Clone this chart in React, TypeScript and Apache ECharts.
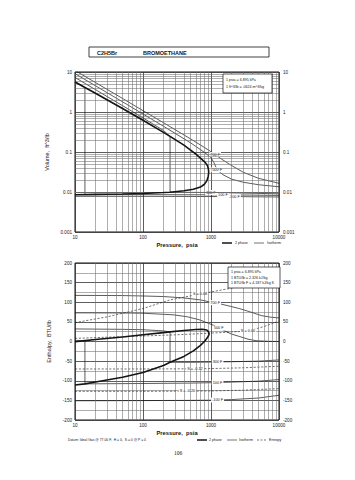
import React, { useEffect, useRef } from 'react';
import * as echarts from 'echarts';

const FONT = 'Liberation Sans, Arial, Helvetica, sans-serif';
const INK = '#151515';

// ---------- axis ticks ----------
const pressureMinor = [20, 30, 40, 50, 60, 70, 80, 90, 200, 300, 400, 500, 600, 700, 800, 900, 2000, 3000, 4000, 5000, 6000, 7000, 8000, 9000];
const volumeMinor = [0.002, 0.003, 0.004, 0.005, 0.006, 0.007, 0.008, 0.009, 0.02, 0.03, 0.04, 0.05, 0.06, 0.07, 0.08, 0.09, 0.2, 0.3, 0.4, 0.5, 0.6, 0.7, 0.8, 0.9, 2, 3, 4, 5, 6, 7, 8, 9];

// ---------- Volume chart [psia, ft^3/lb] ----------
const satLiquidVol = [[10, 0.0085], [20, 0.0087], [50, 0.0089], [100, 0.0092], [200, 0.0097], [250, 0.0099], [400, 0.0107], [550, 0.0117], [700, 0.0133], [800, 0.0156], [870, 0.0192], [910, 0.0245], [925, 0.031]];
const satVaporVol = [[925, 0.031], [915, 0.038], [885, 0.046], [820, 0.055], [700, 0.07], [600, 0.088], [500, 0.112], [400, 0.148], [250, 0.245], [200, 0.31], [100, 0.62], [50, 1.22], [20, 2.95], [14, 4.1], [10, 5.6]];
const isoVolM100 = [[10, 0.0078], [100, 0.0078], [1000, 0.0077], [2200, 0.0077], [4000, 0.0076], [10000, 0.0075]];
const isoVol100 = [[10, 5.75], [14, 4.1], [14, 0.0086], [100, 0.0086], [1000, 0.0085], [1500, 0.0085], [3000, 0.0084], [10000, 0.0082]];
const isoVol300 = [[10, 7.3], [20, 3.62], [50, 1.44], [100, 0.71], [200, 0.345], [250, 0.245], [250, 0.0099], [500, 0.0098], [1000, 0.0097], [3000, 0.0094], [10000, 0.009]];
const isoVol500 = [[10, 9.1], [20, 4.52], [50, 1.8], [100, 0.89], [200, 0.44], [500, 0.17], [800, 0.098], [1000, 0.072], [1100, 0.055], [1230, 0.036], [1500, 0.027], [2000, 0.021], [3000, 0.0175], [5000, 0.0152], [10000, 0.0135]];
const isoVol700 = [[10, 10.9], [20, 5.45], [50, 2.18], [100, 1.08], [200, 0.54], [500, 0.213], [800, 0.13], [1000, 0.102], [1150, 0.086], [1500, 0.063], [2000, 0.046], [3000, 0.031], [5000, 0.022], [10000, 0.0165]];

// ---------- Enthalpy chart [psia, BTU/lb] ----------
const satLiquidH = [[10, -111], [14, -108], [20, -103], [50, -91], [100, -79], [200, -61], [250, -53], [400, -38], [550, -24], [700, -10], [800, 0], [870, 8], [915, 14], [935, 18]];
const satVaporH = [[935, 18], [930, 22], [910, 26], [860, 29.5], [750, 31], [600, 30.5], [400, 28], [250, 24.5], [200, 22.5], [100, 17], [50, 11.5], [20, 5], [14, 2.3], [10, -0.5]];
const isoHM100 = [[10, -151], [100, -150.5], [500, -150], [1000, -149.5], [1250, -149], [2000, -148], [5000, -144], [10000, -137]];
const isoH100 = [[10, 2.9], [14, 2.3], [14, -108], [100, -107], [500, -106], [1000, -105], [1250, -104.5], [2000, -103.5], [5000, -101], [10000, -97]];
const isoH300 = [[10, 32], [50, 31], [100, 30], [200, 27], [250, 24.5], [250, -53], [500, -53], [1000, -52.5], [1250, -52], [2000, -51.5], [5000, -50], [10000, -47]];
const isoH500 = [[10, 73], [50, 72.8], [100, 72], [278, 68], [450, 63], [684, 55], [900, 47], [1100, 41], [1300, 34], [2000, 19], [2600, 13], [3500, 6], [4600, 2], [7000, 0.5], [10000, 0]];
const isoH700 = [[10, 117.5], [50, 117], [100, 116], [200, 114.5], [400, 111], [700, 106], [950, 101], [1150, 99], [1600, 93], [2600, 84], [4000, 74], [5500, 66], [7500, 62], [10000, 60]];
const entropy008 = [[10, 48], [30, 63], [100, 84], [250, 106], [690, 121], [2000, 136], [5000, 146], [10000, 153]];
const entropy000 = [[10, 8], [30, 11], [100, 14], [300, 17], [700, 20], [1500, 23], [3500, 27], [6000, 38], [10000, 52]];
const entropyM012 = [[10, -70], [100, -70], [580, -69.5], [1000, -69], [3000, -67], [10000, -63]];
const entropyM020 = [[10, -127], [100, -127], [450, -126.5], [1000, -126], [3000, -124], [10000, -120]];

function lineSeries(data: number[][], grid: number, width: number, labels: Record<number, string> = {}, dashed = false, z = 3) {
  return {
    type: 'line',
    xAxisIndex: grid,
    yAxisIndex: grid * 2,
    data: data.map((p, i) =>
      labels[i]
        ? {
            value: p,
            label: {
              show: true,
              position: 'inside',
              formatter: labels[i],
              fontSize: 3.8,
              fontFamily: FONT,
              color: INK,
              backgroundColor: '#ffffff',
              padding: [0.5, 1],
            },
          }
        : p
    ),
    symbol: 'circle',
    symbolSize: 0,
    showSymbol: true,
    silent: true,
    z,
    lineStyle: { color: INK, width, type: dashed ? [2.2, 1.6] : 'solid' },
    itemStyle: { color: INK },
  };
}

function minorGrid(grid: number, xs: number[], ys: number[]) {
  return {
    type: 'line',
    xAxisIndex: grid,
    yAxisIndex: grid * 2,
    data: [],
    silent: true,
    z: 1,
    markLine: {
      silent: true,
      symbol: ['none', 'none'],
      label: { show: false },
      lineStyle: { color: '#6a6a6a', width: 0.55, type: 'solid' },
      emphasis: { disabled: true },
      data: [...xs.map((v) => ({ xAxis: v })), ...ys.map((v) => ({ yAxis: v }))],
    },
  };
}

const tickLabel = { fontSize: 4.6, fontFamily: FONT, color: '#222' };
const logFmt = (v: number) => String(Number(v.toPrecision(3)));

export default function App() {
  const ref = useRef<HTMLDivElement>(null);
  useEffect(() => {
    if (!ref.current) return;
    const chart = echarts.init(ref.current, undefined, { renderer: 'svg' });
    const xAxisBase = (gridIndex: number, nameGap: number) => ({
      type: 'log',
      logBase: 10,
      min: 10,
      max: 10000,
      gridIndex,
      name: 'Pressure,  psia',
      nameLocation: 'middle',
      nameGap,
      nameTextStyle: { fontSize: 5.8, fontWeight: 'bold', fontFamily: FONT, color: INK },
      axisLine: { show: false },
      axisTick: { show: false },
      axisLabel: { ...tickLabel, margin: 3, formatter: (v: number) => String(Math.round(v)) },
      splitLine: { show: true, lineStyle: { color: '#333', width: 0.8 } },
    });
    const option = {
      animation: false,
      backgroundColor: '#ffffff',
      grid: [
        { left: 75, right: 76, top: 72, height: 160, show: true, borderColor: '#111', borderWidth: 1, backgroundColor: 'transparent' },
        { left: 75, right: 76, top: 263, height: 157, show: true, borderColor: '#111', borderWidth: 1, backgroundColor: 'transparent' },
      ],
      xAxis: [xAxisBase(0, 10), xAxisBase(1, 10)],
      yAxis: [
        {
          type: 'log', logBase: 10, min: 0.001, max: 10, gridIndex: 0, position: 'left',
          name: 'Volume,  ft^3/lb', nameLocation: 'middle', nameGap: 19,
          nameTextStyle: { fontSize: 5.5, fontFamily: FONT, color: INK },
          axisLine: { show: false }, axisTick: { show: false },
          axisLabel: { ...tickLabel, margin: 3, formatter: logFmt },
          splitLine: { show: true, lineStyle: { color: '#333', width: 0.8 } },
        },
        {
          type: 'log', logBase: 10, min: 0.001, max: 10, gridIndex: 0, position: 'right',
          axisLine: { show: false }, axisTick: { show: false },
          axisLabel: { ...tickLabel, margin: 4, formatter: logFmt },
          splitLine: { show: false },
        },
        {
          type: 'value', min: -200, max: 200, interval: 50, gridIndex: 1, position: 'left',
          name: 'Enthalpy,  BTU/lb', nameLocation: 'middle', nameGap: 19,
          nameTextStyle: { fontSize: 5.5, fontFamily: FONT, color: INK },
          axisLine: { show: false }, axisTick: { show: false },
          axisLabel: { ...tickLabel, margin: 3 },
          splitLine: { show: true, lineStyle: { color: '#333', width: 0.8 } },
          minorTick: { show: false, splitNumber: 2 },
          minorSplitLine: { show: true, lineStyle: { color: '#6a6a6a', width: 0.55 } },
        },
        {
          type: 'value', min: -200, max: 200, interval: 50, gridIndex: 1, position: 'right',
          axisLine: { show: false }, axisTick: { show: false },
          axisLabel: { ...tickLabel, margin: 4 },
          splitLine: { show: false },
        },
      ],
      series: [
        minorGrid(0, pressureMinor, volumeMinor),
        minorGrid(1, pressureMinor, []),
        lineSeries([...satLiquidVol, ...satVaporVol.slice(1)], 0, 1.6, {}, false, 5),
        lineSeries(isoVolM100, 0, 0.7, { 3: '-100 F' }),
        lineSeries(isoVol100, 0, 0.7, { 5: '100 F' }),
        lineSeries(isoVol300, 0, 0.7, { 8: '300 F' }),
        lineSeries(isoVol500, 0, 0.7, { 9: '500 F' }),
        lineSeries(isoVol700, 0, 0.7, { 8: '700 F' }),
        lineSeries([...satLiquidH, ...satVaporH.slice(1)], 1, 1.6, {}, false, 5),
        lineSeries(isoHM100, 1, 0.7, { 4: '-100 F' }),
        lineSeries(isoH100, 1, 0.7, { 6: '100 F' }),
        lineSeries(isoH300, 1, 0.7, { 8: '300 F' }),
        lineSeries(isoH500, 1, 0.7, { 8: '500 F' }),
        lineSeries(isoH700, 1, 0.7, { 7: '700 F' }),
        lineSeries(entropy008, 1, 0.6, { 4: 'S = 0.08' }, true),
        lineSeries(entropy000, 1, 0.6, { 6: 'S = 0.00' }, true),
        lineSeries(entropyM012, 1, 0.6, { 2: 'S = -0.12' }, true),
        lineSeries(entropyM020, 1, 0.6, { 2: 'S = -0.20' }, true),
      ],
      graphic: [
        { type: 'rect', shape: { x: 89, y: 47, width: 180, height: 10 }, style: { fill: 'none', stroke: '#111', lineWidth: 0.8 } },
        { type: 'text', x: 97, y: 52.5, style: { text: 'C2H5Br', fontSize: 5.5, fontWeight: 'bold', fontFamily: FONT, fill: INK, verticalAlign: 'middle' } },
        { type: 'text', x: 143, y: 52.5, style: { text: 'BROMOETHANE', fontSize: 5.5, fontWeight: 'bold', fontFamily: FONT, fill: INK, verticalAlign: 'middle' } },
        // top info box
        { type: 'rect', shape: { x: 223, y: 74, width: 49, height: 19 }, style: { fill: '#fff', stroke: '#111', lineWidth: 0.7 }, z: 10 },
        { type: 'text', x: 226, y: 80, z: 11, style: { text: '1 psia = 6.895 kPa', fontSize: 3.6, fontFamily: FONT, fill: INK, verticalAlign: 'middle' } },
        { type: 'text', x: 226, y: 86.5, z: 11, style: { text: '1 ft^3/lb = .0624 m^3/kg', fontSize: 3.6, fontFamily: FONT, fill: INK, verticalAlign: 'middle' } },
        // bottom info box
        { type: 'rect', shape: { x: 228, y: 267, width: 52, height: 21 }, style: { fill: '#fff', stroke: '#111', lineWidth: 0.7 }, z: 10 },
        { type: 'text', x: 231, y: 272, z: 11, style: { text: '1 psia = 6.895 kPa', fontSize: 3.6, fontFamily: FONT, fill: INK, verticalAlign: 'middle' } },
        { type: 'text', x: 231, y: 277.5, z: 11, style: { text: '1 BTU/lb = 2.326 kJ/kg', fontSize: 3.6, fontFamily: FONT, fill: INK, verticalAlign: 'middle' } },
        { type: 'text', x: 231, y: 283, z: 11, style: { text: '1 BTU/lb F = 4.187 kJ/kg K', fontSize: 3.6, fontFamily: FONT, fill: INK, verticalAlign: 'middle' } },
        // top legend
        { type: 'line', shape: { x1: 222, y1: 243, x2: 232, y2: 243 }, style: { stroke: INK, lineWidth: 1.5 } },
        { type: 'text', x: 235, y: 243, style: { text: '2 phase', fontSize: 3.6, fontFamily: FONT, fill: INK, verticalAlign: 'middle' } },
        { type: 'line', shape: { x1: 254, y1: 243, x2: 264, y2: 243 }, style: { stroke: INK, lineWidth: 0.6 } },
        { type: 'text', x: 267, y: 243, style: { text: 'Isotherm', fontSize: 3.6, fontFamily: FONT, fill: INK, verticalAlign: 'middle' } },
        // bottom legend
        { type: 'line', shape: { x1: 197, y1: 440, x2: 207, y2: 440 }, style: { stroke: INK, lineWidth: 1.5 } },
        { type: 'text', x: 209, y: 440, style: { text: '2 phase', fontSize: 3.6, fontFamily: FONT, fill: INK, verticalAlign: 'middle' } },
        { type: 'line', shape: { x1: 227, y1: 440, x2: 237, y2: 440 }, style: { stroke: INK, lineWidth: 0.6 } },
        { type: 'text', x: 239, y: 440, style: { text: 'Isotherm', fontSize: 3.6, fontFamily: FONT, fill: INK, verticalAlign: 'middle' } },
        { type: 'line', shape: { x1: 257, y1: 440, x2: 267, y2: 440 }, style: { stroke: INK, lineWidth: 0.6, lineDash: [2, 1.5] } },
        { type: 'text', x: 269, y: 440, style: { text: 'Entropy', fontSize: 3.6, fontFamily: FONT, fill: INK, verticalAlign: 'middle' } },
        // footer
        { type: 'text', x: 68, y: 440, style: { text: 'Datum: Ideal Gas @ 77.00 F,  H = 0,  S = 0 @ P = 0', fontSize: 3.4, fontFamily: FONT, fill: INK, verticalAlign: 'middle' } },
        { type: 'text', x: 178, y: 453, style: { text: '106', fontSize: 5.5, fontFamily: 'Liberation Serif, serif', fill: INK, align: 'center', verticalAlign: 'middle' } },
      ],
    };
    chart.setOption(option as any);
    return () => chart.dispose();
  }, []);
  return (
    <div
      ref={ref}
      style={{ position: 'fixed', left: 0, top: 0, width: 355, height: 480, background: '#fff' }}
    />
  );
}
